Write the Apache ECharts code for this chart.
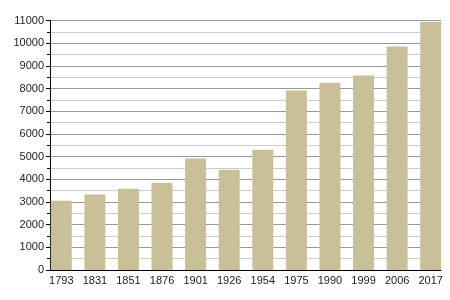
<!DOCTYPE html>
<html><head><meta charset="utf-8">
<script src="https://cdn.jsdelivr.net/npm/echarts@6/dist/echarts.min.js"></script>
<style>html,body{margin:0;padding:0;background:#fff}#c{width:450px;height:300px}</style>
</head><body><div id="c"></div>
<script>
const categories = ['1793','1831','1851','1876','1901','1926','1954','1975','1990','1999','2006','2017'];
const population = [3050, 3330, 3580, 3850, 4920, 4420, 5300, 7910, 8260, 8570, 9850, 10950];
const yTicks = [0,1000,2000,3000,4000,5000,6000,7000,8000,9000,10000,11000];

const chart = echarts.init(document.getElementById('c'), null, {renderer:'canvas'});
const font = 'Liberation Sans, Arial, sans-serif';
chart.setOption({
  animation: false,
  backgroundColor: '#fff',
  grid: [
    {left: 50, right: 9, top: 20.5, bottom: 30},
    {left: 44.5, right: 2.5, top: 20.5, bottom: 30}
  ],
  xAxis: [
    {type: 'category', gridIndex: 0, data: categories, axisLine: {show: true, lineStyle: {color: '#000', width: 1}},
     axisTick: {show: false}, axisLabel: {show: false}, splitLine: {show: false}},
    {type: 'category', gridIndex: 1, data: categories, axisLine: {show: false}, axisTick: {show: false},
     axisLabel: {show: true, color: '#222', fontFamily: font, fontSize: 11, margin: 5, interval: 0}}
  ],
  yAxis: [
    {type: 'value', gridIndex: 0, min: yTicks[0], max: yTicks[yTicks.length-1], interval: 1000,
     axisLine: {show: true, lineStyle: {color: '#000'}},
     axisTick: {show: true, length: 4, lineStyle: {color: '#000'}},
     minorTick: {show: true, splitNumber: 2, length: 3, lineStyle: {color: '#000'}},
     splitLine: {show: true, lineStyle: {color: '#999', width: 1}},
     minorSplitLine: {show: true, lineStyle: {color: '#ccc', width: 1}},
     axisLabel: {color: '#222', fontFamily: font, fontSize: 11, margin: 6, formatter: v => String(v)}},
    {type: 'value', gridIndex: 1, min: 0, max: 11000, interval: 1000, show: false}
  ],
  series: [{
    type: 'bar', xAxisIndex: 1, yAxisIndex: 1, data: population, barWidth: 21,
    itemStyle: {color: '#c9c09a'}
  }]
});
</script></body></html>
